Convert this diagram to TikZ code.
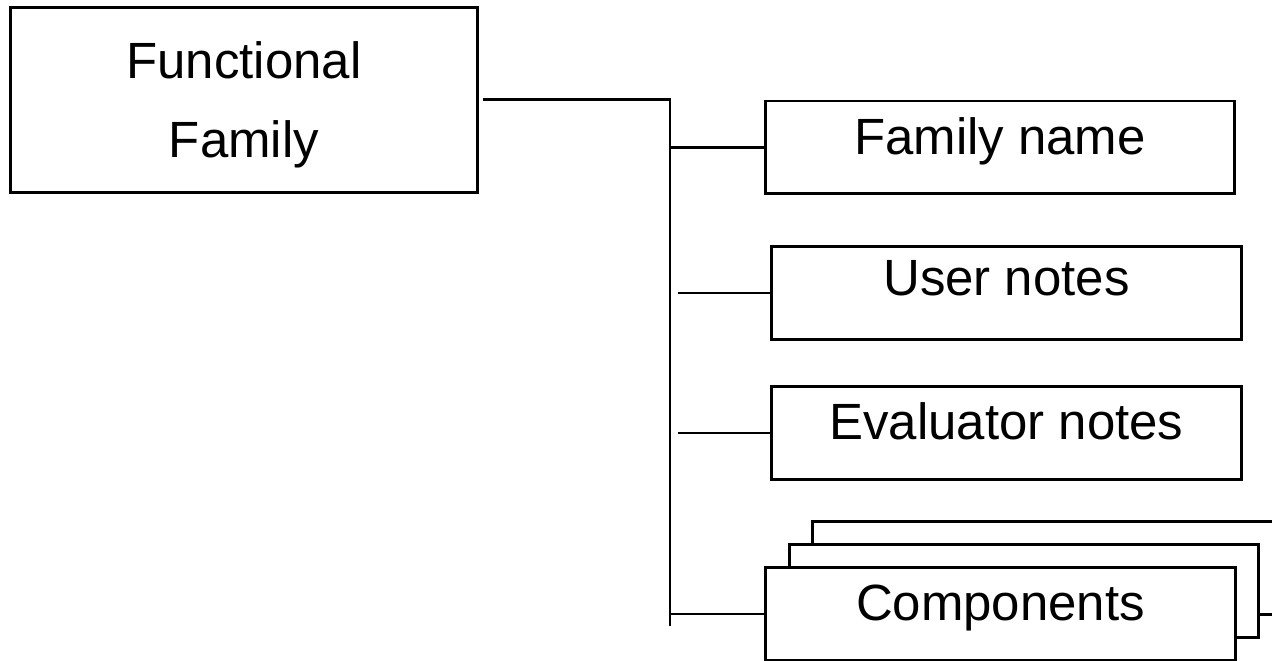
\documentclass[tikz,border=0pt]{standalone}
\usepackage{fontspec}
\setmainfont{Liberation Sans}
\tikzset{
  frame/.style={draw, line width=1.7pt, fill=white, inner sep=0pt, outer sep=0pt,
    minimum width=9.4cm, minimum height=1.86cm, font=\fontsize{29}{45}\selectfont},
  leaf/.style={frame, text height=0.73cm, text depth=0.46cm},
  wire/.style={line width=1.7pt},
}
\begin{document}
\begin{tikzpicture}[x=0.02cm, y=-0.02cm]
	\useasboundingbox (0,0) rectangle (1272,661);
	\node[frame, minimum width=9.36cm, minimum height=3.72cm, align=center, text depth=0pt] (family) at (244,100)
		{Functional\\Family};
	\node[leaf] (name) at (1000,147.5) {Family name};
	\node[leaf, text depth=0.64cm] (user) at (1006.5,293) {User notes};
	\node[leaf] (eval) at (1006.5,433) {Evaluator notes};
		% stacked component boxes
		\node[leaf] (compc) at (1047.5,568) {};
		\node[leaf] (compb) at (1024,591) {};
		\node[leaf] (comp) at (1000.5,614) {Components};
	\coordinate (spine) at (670,626);
	\coordinate (tail) at (1290,614);
	\draw[wire] ([xshift=0.1cm]family.east) -| (spine);
	\draw[wire] (spine |- name.west) -- (name.west);
	\draw[wire] ([xshift=0.16cm]spine |- user.west) -- (user.west);
	\draw[wire] ([xshift=0.16cm]spine |- eval.west) -- (eval.west);
	\draw[wire] (spine |- comp.west) -- (comp.west);
	\draw[wire] (compb.east |- comp.west) -- (tail);
\end{tikzpicture}
\end{document}
